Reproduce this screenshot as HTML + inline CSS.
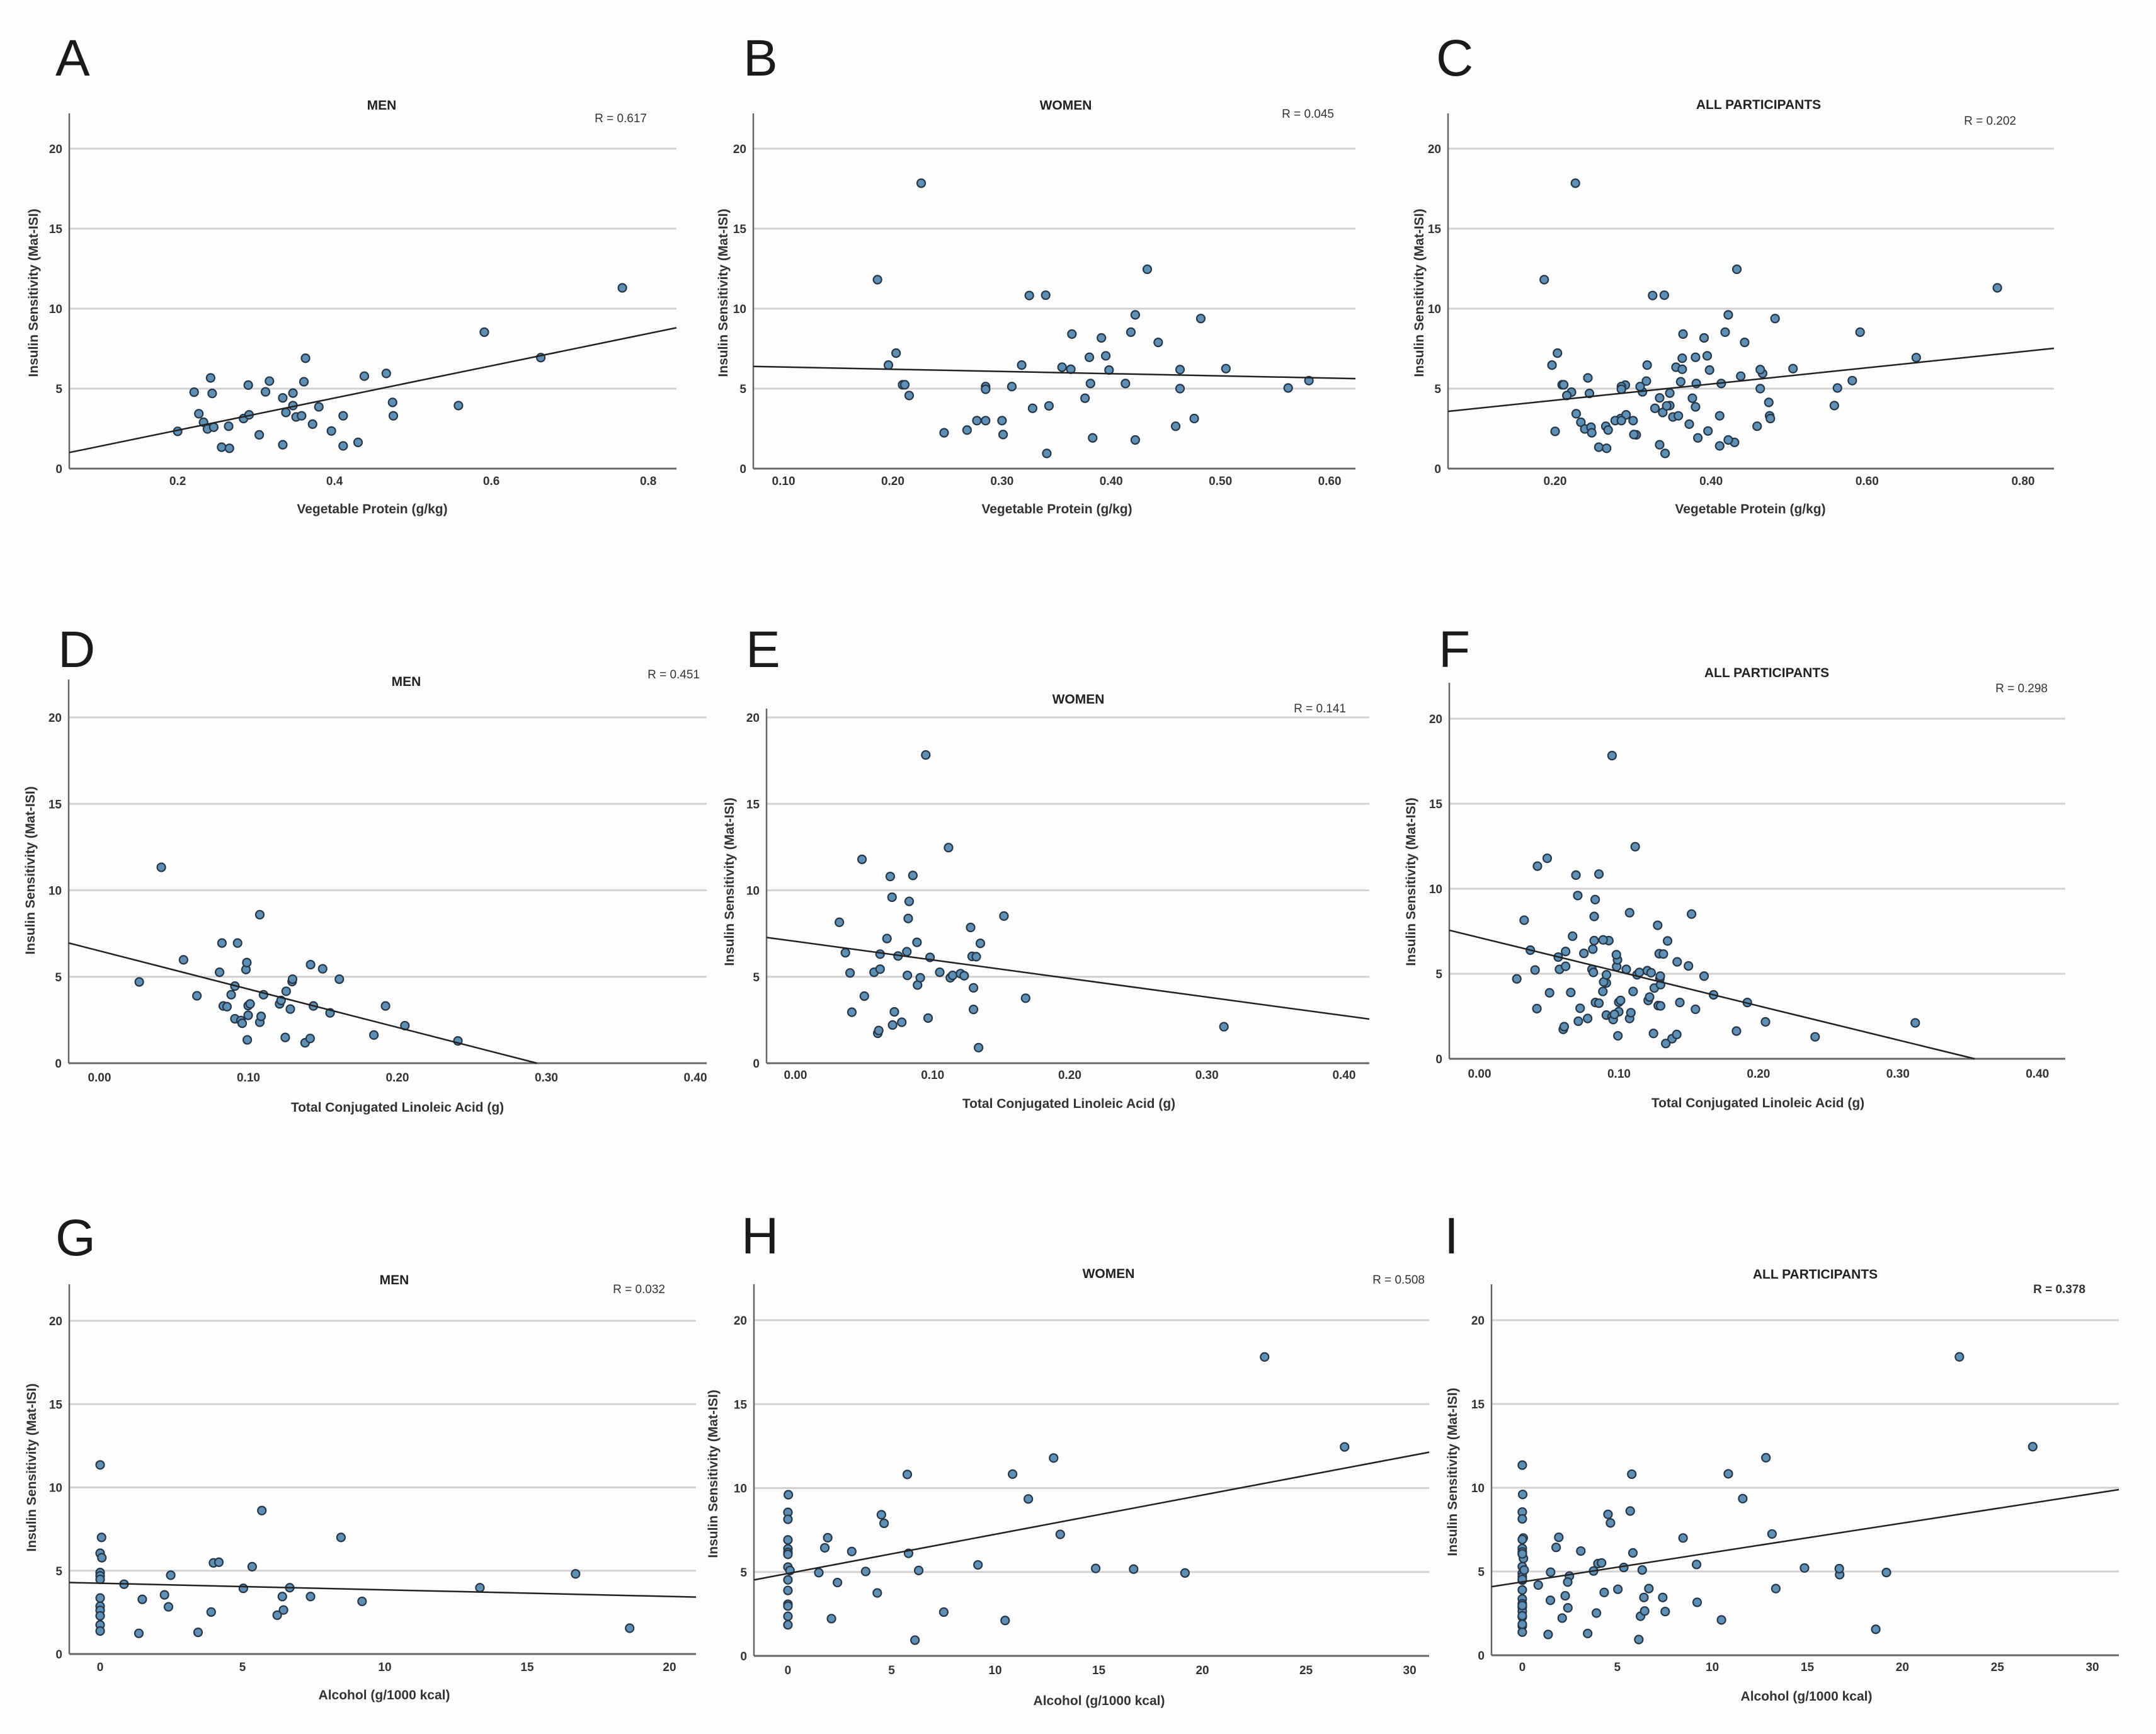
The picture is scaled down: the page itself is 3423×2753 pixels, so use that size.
<!DOCTYPE html>
<html><head><meta charset="utf-8">
<style>
html,body{margin:0;padding:0;background:#fdfdfd;}
svg{display:block;}
text{font-family:"Liberation Sans",sans-serif;}
</style></head>
<body>
<svg id="fig" width="3423" height="2753" viewBox="0 0 3423 2753" xmlns="http://www.w3.org/2000/svg">
<rect x="0" y="0" width="3423" height="2753" fill="#fdfdfd"/>
</svg>
<script>
// ---- data ----
const menVegX = [.200,.221,.242,.244,.227,.233,.238,.246,.265,.256,.266,.284,.291,.290,.304,.312,.317,.334,.334,.338,.347,.347,.351,.358,.361,.363,.372,.380,.396,.411,.411,.430,.438,.466,.474,.475,.558,.591,.663,.767];
const menVegY = [2.33,4.78,5.67,4.70,3.43,2.90,2.48,2.59,2.65,1.34,1.27,3.13,3.36,5.22,2.11,4.80,5.47,4.42,1.49,3.51,4.72,3.94,3.23,3.30,5.43,6.90,2.78,3.86,2.35,3.30,1.42,1.64,5.78,5.95,4.14,3.30,3.94,8.53,6.94,11.30];
const womenVegX = [.186,.196,.203,.209,.211,.215,.226,.247,.268,.277,.285,.285,.285,.300,.301,.309,.318,.325,.328,.340,.341,.343,.355,.363,.364,.376,.380,.381,.383,.391,.395,.398,.413,.418,.422,.422,.433,.443,.459,.463,.463,.476,.482,.505,.562,.581];
const womenVegY = [11.81,6.47,7.22,5.24,5.24,4.57,17.84,2.24,2.41,3.00,3.00,5.13,4.96,3.00,2.13,5.13,6.47,10.82,3.77,10.84,0.95,3.92,6.34,6.21,8.41,4.40,6.96,5.32,1.92,8.17,7.05,6.16,5.32,8.53,9.61,1.79,12.46,7.89,2.65,6.19,5.00,3.13,9.38,6.25,5.04,5.50];
const menClaX = [.0267,.0415,.0564,.0654,.0806,.0822,.0831,.0856,.0884,.0909,.0909,.0927,.0949,.0958,.0983,.0989,.0992,.0998,.0998,.1011,.1076,.1076,.1085,.1101,.1209,.1219,.1247,.1253,.1281,.1293,.1296,.1380,.1414,.1417,.1436,.1498,.1548,.1610,.1842,.1920,.2050,.2406];
const menClaY = [4.70,11.33,5.98,3.90,5.26,6.95,3.31,3.27,3.96,4.46,2.57,6.95,2.47,2.31,5.42,5.82,1.35,3.33,2.77,3.43,8.59,2.37,2.71,3.96,3.43,3.63,1.49,4.16,3.13,4.72,4.86,1.18,1.43,5.70,3.31,5.46,2.91,4.86,1.63,3.31,2.17,1.29];
const womenClaX = [.0320,.0364,.0398,.0411,.0485,.0502,.0573,.0600,.0607,.0617,.0617,.0667,.0691,.0704,.0708,.0721,.0748,.0775,.0812,.0816,.0822,.0829,.0856,.0886,.0890,.0910,.0950,.0967,.0981,.1052,.1116,.1129,.1146,.1203,.1230,.1277,.1288,.1298,.1298,.1318,.1335,.1348,.1520,.1678,.3124];
const womenClaY = [8.15,6.39,5.22,2.95,11.79,3.88,5.26,1.73,1.89,5.44,6.31,7.21,10.80,9.60,2.21,2.97,6.20,2.37,6.45,5.08,8.37,9.36,10.86,6.99,4.52,4.94,17.83,2.61,6.12,5.26,12.47,4.94,5.08,5.18,5.06,7.85,6.18,4.36,3.11,6.16,0.90,6.93,8.51,3.76,2.11];
const menAlcX = [0,0.05,0,0.06,0,0,0,0,0,0,0,0,0,0.84,1.48,1.36,2.26,2.40,2.48,3.44,3.90,3.98,4.17,5.03,5.34,5.68,6.22,6.40,6.44,6.66,7.39,8.46,9.20,13.34,16.70,18.60];
const menAlcY = [11.35,7.00,6.05,5.78,4.89,4.69,4.48,3.36,2.87,2.62,2.29,1.75,1.38,4.19,3.28,1.24,3.55,2.83,4.73,1.30,2.52,5.47,5.51,3.94,5.24,8.61,2.33,3.45,2.64,3.98,3.45,7.00,3.16,3.98,4.81,1.55];
const womenAlcX = [0.02,0,0,0,0,0,0,0,0.1,0,0,0,0,0,0,1.49,1.78,1.92,2.10,2.39,3.08,3.75,4.31,4.51,4.64,5.76,5.82,6.13,6.31,7.52,9.17,10.48,10.84,11.60,12.82,13.14,14.85,16.68,19.16,23.0,26.86];
const womenAlcY = [9.60,8.55,8.14,6.91,6.38,6.17,6.05,5.29,5.09,4.53,3.90,3.08,2.97,2.36,1.85,4.96,6.44,7.04,2.22,4.37,6.22,5.03,3.75,8.41,7.90,10.81,6.11,0.94,5.09,2.61,5.42,2.11,10.83,9.35,11.79,7.24,5.21,5.17,4.94,17.81,12.45];

const yTicks = [0,5,10,15,20];
const yTickLabels = ["0","5","10","15","20"];
const vegTicksA = [0.2,0.4,0.6,0.8];
const vegTickLabelsA = ["0.2","0.4","0.6","0.8"];
const vegTicksB = [0.1,0.2,0.3,0.4,0.5,0.6];
const vegTickLabelsB = ["0.10","0.20","0.30","0.40","0.50","0.60"];
const vegTicksC = [0.2,0.4,0.6,0.8];
const vegTickLabelsC = ["0.20","0.40","0.60","0.80"];
const claTicks = [0,0.1,0.2,0.3,0.4];
const claTickLabels = ["0.00","0.10","0.20","0.30","0.40"];
const alcTicksG = [0,5,10,15,20];
const alcTickLabelsG = ["0","5","10","15","20"];
const alcTicksH = [0,5,10,15,20,25,30];
const alcTickLabelsH = ["0","5","10","15","20","25","30"];

const NS = "http://www.w3.org/2000/svg";
const svg = document.getElementById('fig');
function mk(tag, attrs, parent){
  const e = document.createElementNS(NS, tag);
  for (const k in attrs) e.setAttribute(k, attrs[k]);
  (parent||svg).appendChild(e);
  return e;
}

const YLAB = "Insulin Sensitivity (Mat-ISI)";
const panels = [
 {id:'a',letter:'A',lx:88,ly:120,title:'MEN',tx:606,ty:174,r:'R = 0.617',rx:1027,ry:194,rb:false,
  xs:menVegX,ys:menVegY,L:110,R:1074,T:180,Y0:744,Y20:236,x0:0.0618,x1:0.836,
  ticks:vegTicksA,tl:vegTickLabelsA,tky:770,xl:'Vegetable Protein (g/kg)',xlx:591,xly:815,ylx:53,yly:465},
 {id:'b',letter:'B',lx:1180,ly:120,title:'WOMEN',tx:1692,ty:174,r:'R = 0.045',rx:2118,ry:187,rb:false,
  xs:womenVegX,ys:womenVegY,L:1196,R:2152,T:180,Y0:744,Y20:236,x0:0.0723,x1:0.6236,
  ticks:vegTicksB,tl:vegTickLabelsB,tky:770,xl:'Vegetable Protein (g/kg)',xlx:1678,xly:815,ylx:1148,yly:465},
 {id:'c',letter:'C',lx:2280,ly:120,title:'ALL PARTICIPANTS',tx:2792,ty:173,r:'R = 0.202',rx:3201,ry:198,rb:false,
  xs:menVegX.concat(womenVegX),ys:menVegY.concat(womenVegY),L:2299,R:3261,T:180,Y0:744,Y20:236,x0:0.0627,x1:0.8396,
  ticks:vegTicksC,tl:vegTickLabelsC,tky:770,xl:'Vegetable Protein (g/kg)',xlx:2779,xly:815,ylx:2253,yly:465},
 {id:'d',letter:'D',lx:92,ly:1059,title:'MEN',tx:645,ty:1089,r:'R = 0.451',rx:1111,ry:1077,rb:false,
  xs:menClaX,ys:menClaY,L:109,R:1122,T:1079,Y0:1688,Y20:1139,x0:-0.0207,x1:0.4076,
  ticks:claTicks,tl:claTickLabels,tky:1717,xl:'Total Conjugated Linoleic Acid (g)',xlx:631,xly:1765,ylx:48,yly:1382},
 {id:'e',letter:'E',lx:1184,ly:1059,title:'WOMEN',tx:1712,ty:1117,r:'R = 0.141',rx:2137,ry:1131,rb:false,
  xs:womenClaX,ys:womenClaY,L:1217,R:2174,T:1125,Y0:1688,Y20:1139,x0:-0.0211,x1:0.4184,
  ticks:claTicks,tl:claTickLabels,tky:1713,xl:'Total Conjugated Linoleic Acid (g)',xlx:1697,xly:1759,ylx:1158,yly:1400},
 {id:'f',letter:'F',lx:2284,ly:1059,title:'ALL PARTICIPANTS',tx:2805,ty:1075,r:'R = 0.298',rx:3251,ry:1099,rb:false,
  xs:menClaX.concat(womenClaX),ys:menClaY.concat(womenClaY),L:2301,R:3279,T:1084,Y0:1681,Y20:1141,x0:-0.0217,x1:0.420,
  ticks:claTicks,tl:claTickLabels,tky:1711,xl:'Total Conjugated Linoleic Acid (g)',xlx:2791,xly:1758,ylx:2240,yly:1400},
 {id:'g',letter:'G',lx:88,ly:1993,title:'MEN',tx:626,ty:2039,r:'R = 0.032',rx:1056,ry:2053,rb:false,
  xs:menAlcX,ys:menAlcY,L:110,R:1105,T:2039,Y0:2626,Y20:2097,x0:-1.084,x1:20.93,
  ticks:alcTicksG,tl:alcTickLabelsG,tky:2653,xl:'Alcohol (g/1000 kcal)',xlx:610,xly:2698,ylx:50,yly:2330},
 {id:'h',letter:'H',lx:1177,ly:1990,title:'WOMEN',tx:1760,ty:2029,r:'R = 0.508',rx:2262,ry:2038,rb:false,
  xs:womenAlcX,ys:womenAlcY,L:1197,R:2269,T:2039,Y0:2629,Y20:2096,x0:-1.64,x1:30.94,
  ticks:alcTicksH,tl:alcTickLabelsH,tky:2658,xl:'Alcohol (g/1000 kcal)',xlx:1745,xly:2707,ylx:1132,yly:2340},
 {id:'i',letter:'I',lx:2293,ly:1990,title:'ALL PARTICIPANTS',tx:2882,ty:2030,r:'R = 0.378',rx:3311,ry:2053,rb:true,
  xs:menAlcX.concat(womenAlcX),ys:menAlcY.concat(womenAlcY),L:2368,R:3364,T:2039,Y0:2628,Y20:2096,x0:-1.62,x1:31.39,
  ticks:alcTicksH,tl:alcTickLabelsH,tky:2653,xl:'Alcohol (g/1000 kcal)',xlx:2868,xly:2700,ylx:2306,yly:2337}
];

panels.forEach(p => {
  const g = mk('g', {});
  
  
  const sx = v => p.L + (v - p.x0) / (p.x1 - p.x0) * (p.R - p.L);
  const sy = v => p.Y0 - v * (p.Y0 - p.Y20) / 20;

  let t = mk('text', {x:p.lx, y:p.ly, 'font-size':82, fill:'#1a1a1a'}, g);
  t.textContent = p.letter;
  
  

  // gridlines
  yTicks.forEach((v, i) => {
    if (v > 0) {
      const l = mk('line', {x1:p.L, x2:p.R, y1:sy(v), y2:sy(v), stroke:'#d2d2d2', 'stroke-width':3}, g);
      
      
    }
    const tt = mk('text', {x:p.L - 11, y:sy(v) + 7, 'font-size':19, 'font-weight':'bold', 'text-anchor':'end', fill:'#333'}, g);
    tt.textContent = yTickLabels[i];
    
    
  });
  // axes
  let ax = mk('line', {x1:p.L, x2:p.L, y1:p.T, y2:p.Y0, stroke:'#666', 'stroke-width':2.5}, g);
  
  
  ax = mk('line', {x1:p.L, x2:p.R, y1:p.Y0, y2:p.Y0, stroke:'#666', 'stroke-width':3}, g);
  
  

  p.ticks.forEach((v, i) => {
    const tt = mk('text', {x:sx(v), y:p.tky, 'font-size':19, 'font-weight':'bold', 'text-anchor':'middle', fill:'#333'}, g);
    tt.textContent = p.tl[i];
    
    
  });

  // points
  p.xs.forEach((xv, i) => {
    const c = mk('circle', {cx:sx(xv), cy:sy(p.ys[i]), r:6.5, fill:'#5e8fb5', stroke:'#263646', 'stroke-width':2.2}, g);
    
    
  });

  // regression line (least squares from data)
  const n = p.xs.length;
  let mx = 0, my = 0;
  for (let i = 0; i < n; i++) { mx += p.xs[i]; my += p.ys[i]; }
  mx /= n; my /= n;
  let sxy = 0, sxx = 0;
  for (let i = 0; i < n; i++) { sxy += (p.xs[i]-mx)*(p.ys[i]-my); sxx += (p.xs[i]-mx)*(p.xs[i]-mx); }
  const b = sxy / sxx, a = my - b * mx;
  let xa = p.x0, xb = p.x1;
  if (a + b*xa < 0) xa = -a / b;
  if (a + b*xb < 0) xb = -a / b;
  const rl = mk('line', {x1:sx(xa), y1:sy(a+b*xa), x2:sx(xb), y2:sy(a+b*xb), stroke:'#222', 'stroke-width':2.5}, g);
  
  

  t = mk('text', {x:p.tx, y:p.ty, 'font-size':21, 'font-weight':'bold', 'text-anchor':'middle', fill:'#222'}, g);
  t.textContent = p.title;
  
  

  t = mk('text', {x:p.rx, y:p.ry, 'font-size':19, 'font-weight':p.rb?'bold':'normal', 'text-anchor':'end', fill:'#333'}, g);
  t.textContent = p.r;
  
  

  t = mk('text', {x:p.xlx, y:p.xly, 'font-size':21, 'font-weight':'bold', 'text-anchor':'middle', fill:'#333'}, g);
  t.textContent = p.xl;
  
  

  t = mk('text', {x:0, y:0, 'font-size':21, 'font-weight':'bold', 'text-anchor':'middle', fill:'#333',
      transform:'translate(' + (p.ylx + 7) + ',' + p.yly + ') rotate(-90)'}, g);
  t.textContent = YLAB;
  
  
});
</script>
</body></html>
